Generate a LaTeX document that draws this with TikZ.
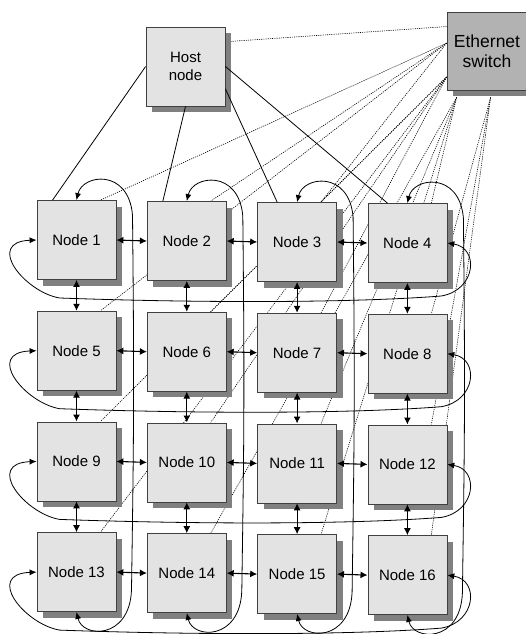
\documentclass[tikz,border=0pt]{standalone}
\usepackage{fontspec}
\setmainfont{Liberation Sans}
\usetikzlibrary{shadows,arrows.meta,calc}
\pgfdeclarelayer{bg}
\pgfsetlayers{bg,main}
\begin{document}
\begin{tikzpicture}[x=1pt,y=-1pt,
  box/.style={draw=black!75,line width=0.8pt,fill=black!11,minimum width=79pt,minimum height=79pt,inner sep=0pt,align=center,font=\fontsize{15}{18}\selectfont,drop shadow={shadow xshift=6pt,shadow yshift=-6pt,fill=black!50,opacity=1,draw=none}},
  swbox/.style={box,fill=black!30,minimum width=80pt,minimum height=78pt,font=\fontsize{17.5}{19.5}\selectfont},
  eth/.style={line width=0.6pt,dash pattern=on 1.1pt off 1.1pt},
  hostln/.style={line width=0.8pt},
  nb/.style={line width=1.1pt,{Latex[length=7pt,width=7pt]}-{Latex[length=7pt,width=7pt]}},
  wrap/.style={line width=0.8pt,{Latex[length=7pt,width=6pt]}-{Latex[length=7pt,width=6pt]}}]
\useasboundingbox (0,0) rectangle (525,634);

% nodes
\node[box] (host) at (185.5,66.5) {Host\\node};
\node[swbox] (sw) at (487,51) {Ethernet\\switch};
\foreach \r in {0,...,3}{\foreach \c in {0,...,3}{
  \pgfmathtruncatemacro{\k}{4*\r+\c+1}
  \node[box] (n\k) at ({76.5+110.3*\c},{240+110.7*\r+\c}) {Node \k};
}}

% switch fan-out points
\coordinate (sH) at ($(sw.north west)!0.19!(sw.south west)$);
\coordinate (sA) at ($(sw.north west)!0.4!(sw.south west)$);
\coordinate (sB) at ($(sw.north west)!0.83!(sw.south west)$);
\coordinate (sC) at ($(sw.south west)+(10,7)$);
\coordinate (sD) at ($(sw.south west)+(44,7)$);

% ethernet links (behind)
\begin{pgfonlayer}{bg}
\draw[eth] (sH) -- ($(host.north east)!0.19!(host.south east)$);
\foreach \k/\s in {1/A,2/A,3/A,4/C,5/A,6/B,7/B,8/D,9/B,10/B,11/C,12/D,13/B,14/C,15/C,16/D}{
  \draw[eth] (s\s) -- ($(n\k.north west)!0.8!(n\k.north east)$);
}
\end{pgfonlayer}

% host links
\draw[hostln] (host.west) -- ($(n1.north west)!0.2!(n1.north east)$);
\draw[hostln] (host.south) -- ($(n2.north west)!0.2!(n2.north east)$);
\draw[hostln] ($(host.north east)!0.78!(host.south east)$) -- ($(n3.north west)!0.25!(n3.north east)$);
\draw[hostln] (host.east) -- ($(n4.north west)!0.25!(n4.north east)$);

% neighbour links
\foreach \r in {0,...,3}{\foreach \c in {1,2,3}{
  \pgfmathtruncatemacro{\a}{4*\r+\c}
  \pgfmathtruncatemacro{\b}{\a+1}
  \draw[nb] (n\a.east) -- (n\b.west);
}}
\foreach \a in {1,...,12}{
  \pgfmathtruncatemacro{\b}{\a+4}
  \draw[nb] (n\a.south) -- (n\b.north);
}

% row wrap-around
\foreach \a/\b in {1/4,5/8,9/12,13/16}{
  \draw[wrap] (n\a.west) .. controls +(-52,2) and +(-35,-6) .. ($(n\a.west)+(23,58)$)
    .. controls +(140,5) and +(-90,7) .. ($(n\b.east)+(-6,53)$)
    .. controls +(35,-6) and +(32,5) .. (n\b.east);
}
% column wrap-around
\foreach \a/\b in {1/13,2/14,3/15,4/16}{
  \draw[wrap] (n\a.north) .. controls +(6,-26) and +(-4,-47) .. ($(n\a.north)+(56,15)$)
    .. controls +(2,185) and +(2,-140) .. ($(n\b.south)+(55,-22)$)
    .. controls +(-2,50) and +(6,26) .. (n\b.south);
}
\end{tikzpicture}
\end{document}
